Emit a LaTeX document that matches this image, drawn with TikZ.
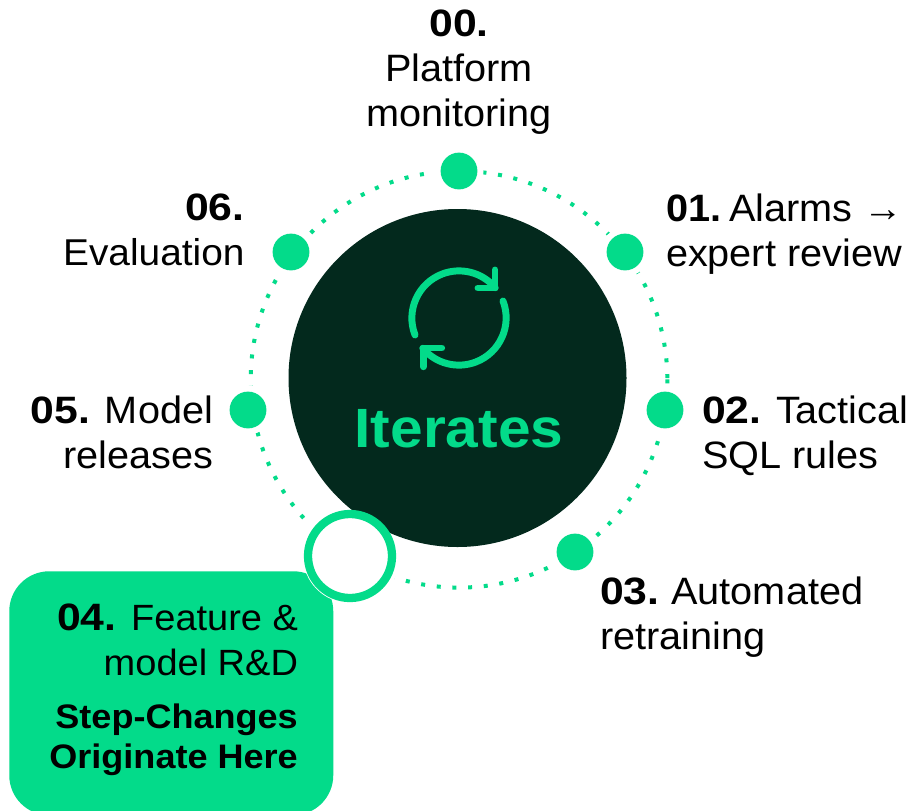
\documentclass[tikz,border=0pt]{standalone}
\usepackage{fontspec}
\setmainfont[FakeStretch=1.04]{Liberation Sans}
\newfontfamily\headfont[FakeStretch=1.06]{Liberation Sans}
\newfontfamily\numfont[FakeStretch=1.12]{Liberation Sans}
\newcommand{\stepnum}[1]{{\numfont\bfseries #1}}
\definecolor{mint}{RGB}{3,219,138}
\definecolor{pine}{RGB}{3,41,29}
\tikzset{
  x=0.75pt,y=-0.75pt,
  stopdot/.style={circle,fill=mint,draw=none,minimum size=27.6pt,inner sep=0pt},
  lbl/.style={inner sep=0pt,outer sep=0pt,font=\fontsize{28.6}{33.75}\selectfont},
  iconline/.style={draw=mint,line width=5.2pt,line cap=round,line join=round},
}
\begin{document}
\begin{tikzpicture}
\useasboundingbox (0,0) rectangle (912,810);
\clip (0,0) rectangle (912,810);
\fill[white] (0,0) rectangle (912,810);
% ring
\coordinate (hub) at (459,379.3);
\draw[mint,line width=3pt,dash pattern=on 3pt off 8.78pt] (hub) circle[radius=208.3];
% clear space round the stops
\foreach \p in {(459,171),(625,252),(665,410),(575,552),(248,410),(291,252)}
  \fill[white] \p circle[radius=24.5];
\fill[white] (350,556) circle[radius=50];
% panel
\node[fill=mint,rounded corners=30pt,minimum width=243pt,minimum height=183pt,inner sep=0pt,anchor=north west] (panel) at (9,571) {};
\fill[white] (350,556) circle[radius=47];
% core
\node[circle,fill=pine,minimum size=253.5pt,inner sep=0pt] (core) at (457.5,378) {};
% dots
\node[stopdot] (d0) at (459,171) {};
\node[stopdot] (d1) at (625,252) {};
\node[stopdot] (d2) at (665,410) {};
\node[stopdot] (d3) at (575,552) {};
\node[stopdot] (d5) at (248,410) {};
\node[stopdot] (d6) at (291,252) {};
\node[circle,fill=white,draw=mint,line width=6.2pt,minimum size=63pt,inner sep=0pt] (d4) at (350,556) {};
% icon
\coordinate (ic) at (459,317.7);
\draw[iconline] (415,335) arc[start angle=159,end angle=320,radius=47.2];
\draw[iconline] (495,270) -- (495,288) -- (478,288);
\draw[iconline] (503,301) arc[start angle=-21,end angle=140,radius=47.2];
\draw[iconline] (423.3,366.7) -- (423.3,348) -- (441.7,348);
% labels
\node[font=\fontsize{41.5}{50}\selectfont\headfont\bfseries,text=mint,inner sep=0pt,anchor=base] (title) at (459,447) {Iterates};
\node[lbl,anchor=north,align=center] (t0) at (459,9.5) {\stepnum{00.}\\Platform\\monitoring};
\node[lbl,anchor=north west,align=left] (t1) at (666,193.5) {\textbf{01.}\hspace{-5pt} Alarms →\\expert review};
\node[lbl,anchor=north west,align=left] (t2) at (702,396) {\stepnum{02.} Tactical\\SQL rules};
\node[lbl,anchor=north west,align=left] (t3) at (600,577) {\stepnum{03.}\hspace{-2pt} Automated\\retraining};
\node[lbl,anchor=north east,align=right] (t4) at (298,604) {\stepnum{04.} {\fontsize{27.4}{33.75}\selectfont Feature \&}\\{\fontsize{27.4}{33.75}\selectfont model R\&D}};
\node[inner sep=0pt,anchor=north east,align=right,font=\fontsize{25.5}{30}\selectfont\headfont\bfseries] (t4b) at (298,704) {Step-Changes\\Originate Here};
\node[lbl,anchor=north east,align=right] (t5) at (213,396) {\stepnum{05.} Model\\releases};
\node[lbl,anchor=north east,align=right] (t6) at (244.5,194) {\stepnum{06.}\\{\fontsize{28}{33.75}\selectfont Evaluation}};
\end{tikzpicture}
\end{document}
